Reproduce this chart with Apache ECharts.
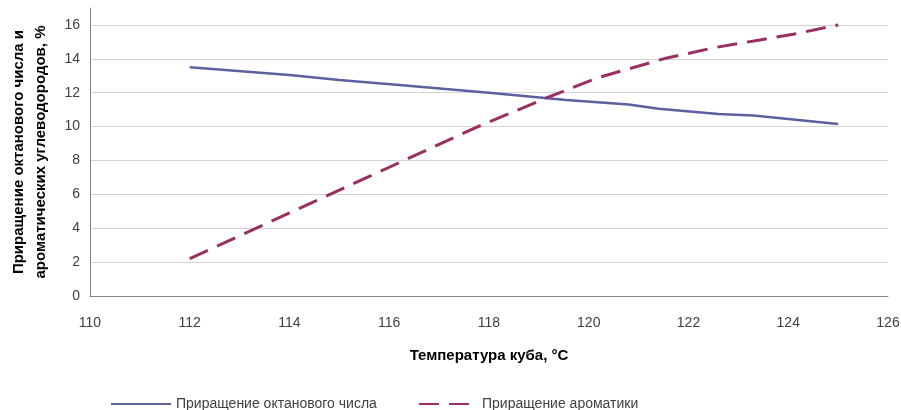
<!DOCTYPE html>
<html><head><meta charset="utf-8">
<script src="https://cdn.jsdelivr.net/npm/echarts@6/dist/echarts.min.js"></script>
<style>html,body{margin:0;padding:0;background:#fff}#c{width:901px;height:410px}</style>
</head><body><div id="c"></div>
<script>
var xTicks = [110, 112, 114, 116, 118, 120, 122, 124, 126];
var yTicks = [0, 2, 4, 6, 8, 10, 12, 14, 16];
var octaneTemp = [112, 114, 115, 116.2, 118, 119.55, 120.8, 121.4, 122.6, 123.3, 125];
var octaneVals = [13.5, 13.05, 12.75, 12.46, 12.0, 11.57, 11.3, 11.05, 10.75, 10.65, 10.15];
var aromTemp = [112, 114, 116, 117.7, 119.2, 120.2, 121.5, 122.5, 123.4, 124.1, 125];
var aromVals = [2.2, 4.9, 7.6, 9.9, 11.75, 12.9, 14.0, 14.65, 15.1, 15.45, 16.0];
var names = ['Приращение октанового числа', 'Приращение ароматики'];

function pairs(xs, ys) { return xs.map(function (x, i) { return [x, ys[i]]; }); }

var chart = echarts.init(document.getElementById('c'));
var font = 'Liberation Sans, Arial, sans-serif';
var legText = { fontSize: 14, color: '#404040', fontFamily: font };
chart.setOption({
  animation: false,
  textStyle: { fontFamily: font },
  grid: { left: 90, right: 13, top: 8, bottom: 114, containLabel: false, outerBoundsMode: 'none' },
  legend: [
    { data: [names[0]], left: 105, top: 392, itemWidth: 60, itemHeight: 3, itemGap: 4, textStyle: legText, itemStyle: { opacity: 0 } },
    { data: [names[1]], left: 413, top: 392, itemWidth: 58, itemHeight: 3, itemGap: 4, textStyle: legText, itemStyle: { opacity: 0 } }
  ],
  xAxis: {
    type: 'value', min: xTicks[0], max: xTicks[xTicks.length - 1], interval: 2,
    name: 'Температура куба, °C', nameLocation: 'middle', nameGap: 52,
    nameTextStyle: { fontSize: 15, fontWeight: 'bold', color: '#000' },
    axisLine: { show: true, lineStyle: { color: '#868686', width: 1 } },
    axisTick: { show: false },
    axisLabel: { fontSize: 14, color: '#404040', margin: 20 },
    splitLine: { show: false }
  },
  yAxis: {
    type: 'value', min: 0, max: 17, interval: 2,
    name: 'Приращение октанового числа и\nароматических углеводородов, %', nameLocation: 'middle', nameGap: 38,
    nameTextStyle: { fontSize: 15, fontWeight: 'bold', color: '#000', lineHeight: 22 },
    axisLine: { show: true, lineStyle: { color: '#868686', width: 1 } },
    axisTick: { show: false },
    axisLabel: { fontSize: 14, color: '#404040', margin: 10,
      formatter: function (v) { return yTicks.indexOf(v) >= 0 ? String(v) : ''; } },
    splitLine: { show: true, showMaxLine: false, lineStyle: { color: '#d4d4d4', width: 1 } }
  },
  series: [
    { name: names[0], type: 'line', data: pairs(octaneTemp, octaneVals), symbol: 'none',
      lineStyle: { color: '#5d5f9e', width: 2.5 }, itemStyle: { color: '#5d5f9e' } },
    { name: names[1], type: 'line', data: pairs(aromTemp, aromVals), symbol: 'none',
      lineStyle: { color: '#9a2f63', width: 3, type: [20, 10] }, itemStyle: { color: '#9a2f63' } }
  ]
});
</script></body></html>
